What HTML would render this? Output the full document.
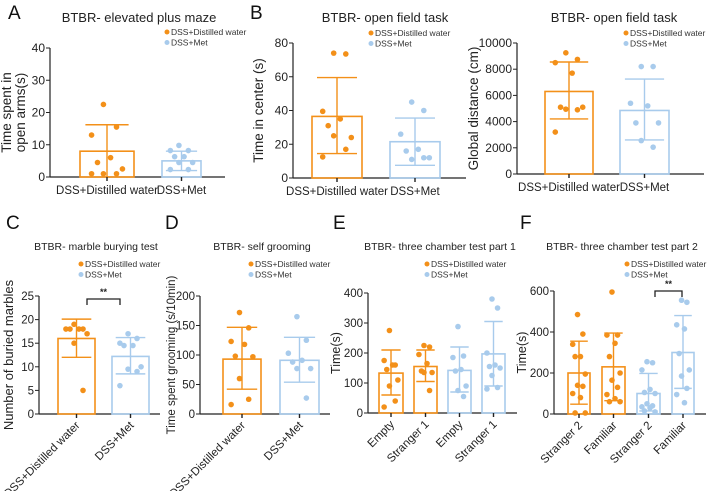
<!DOCTYPE html>
<html><head><meta charset="utf-8">
<style>
html,body{margin:0;padding:0;background:#fff;}
svg{display:block;font-family:"Liberation Sans",Arial,sans-serif;}
</style></head>
<body>
<svg id="fig" width="708" height="491" viewBox="0 0 708 491"></svg>
<script>
// ---- data arrays ----
const aCategories = ["DSS+Distilled water","DSS+Met"];
const aMeans = [8, 5];
const aErrLow = [0, 2];
const aErrHigh = [16.2, 8];
const aPoints = [[22.5,15.5,13,6,4.5,2.5,1,1,1],[9.8,8.2,8.2,6.3,6.3,4.5,4.5,2.3,2.3]];
const aTicks = [0,10,20,30,40];

const b1Categories = ["DSS+Distilled water","DSS+Met"];
const b1Means = [36.5, 21.5];
const b1ErrLow = [14.5, 7.5];
const b1ErrHigh = [59.5, 35.5];
const b1Points = [[74,73.5,39.5,35,31,24,25,17,12.5],[45,40,26,17,16,12,11,12]];
const b1Ticks = [0,20,40,60,80];

const b2Categories = ["DSS+Distilled water","DSS+Met"];
const b2Means = [6300, 4850];
const b2ErrLow = [4200, 2600];
const b2ErrHigh = [8550, 7250];
const b2Points = [[9250,8750,8500,7700,5100,5100,4950,4900,3200],[8200,8200,5400,5200,3900,3900,2550,2050]];
const b2Ticks = [0,2000,4000,6000,8000,10000];

const cCategories = ["DSS+Distilled water","DSS+Met"];
const cMeans = [16, 12.2];
const cErrLow = [12, 8.5];
const cErrHigh = [20.1, 16.2];
const cPoints = [[19,18,18,18,18,17,15,5],[17,16,15,14.5,14.5,10,9.5,9,6]];
const cTicks = [0,5,10,15,20,25];

const dCategories = ["DSS+Distilled water","DSS+Met"];
const dMeans = [93, 91];
const dErrLow = [42, 54];
const dErrHigh = [147, 130];
const dPoints = [[172,146,123,118,98,97,60,25,16],[165,125,103,91,88,77,77,27]];
const dTicks = [0,50,100,150,200];

const eCategories = ["Empty","Stranger 1","Empty","Stranger 1"];
const eMeans = [133,155,142,197];
const eErrLow = [60,105,70,90];
const eErrHigh = [210,210,220,305];
const ePoints = [[275,160,175,160,145,110,90,40,20],[225,220,195,165,140,135,135,75],[288,190,185,145,140,90,75,55],[380,350,200,160,155,150,125,85,80]];
const eTicks = [0,100,200,300,400];

const fCategories = ["Stranger 2","Familiar","Stranger 2","Familiar"];
const fMeans = [200,230,100,300];
const fErrLow = [48,65,15,125];
const fErrHigh = [355,395,198,480];
const fPoints = [[485,390,340,280,280,195,140,135,100,80,5,5],[595,385,385,345,280,200,165,130,95,75,60,60],[255,250,215,120,105,100,50,40,35,30,15,10],[555,545,435,415,295,215,185,125,95,55]];
const fTicks = [0,200,400,600];

// ---- rendering ----
const NS="http://www.w3.org/2000/svg";
const svg=document.getElementById('fig');
const OR="#f39019", BL="#a8cbec";
function mk(tag,attrs,parent,text){
  const e=document.createElementNS(NS,tag);
  for(const k in attrs)e.setAttribute(k,attrs[k]);
  if(text!==undefined)e.textContent=text;
  (parent||svg).appendChild(e);return e;
}
function panel(p){
  const g=mk('g',{});
  
  
  const max=p.ticks[p.ticks.length-1];
  const y=v=>p.y0-(v/max)*(p.y0-p.yTop);
  const ax=mk('line',{x1:p.ax,y1:p.yTop,x2:p.ax,y2:p.y0,stroke:'#222','stroke-width':1.2},g);
  
  const xl=mk('line',{x1:p.ax,y1:p.y0,x2:p.axEnd,y2:p.y0,stroke:'#222','stroke-width':1.2},g);
  
  p.ticks.forEach(t=>{
    mk('line',{x1:p.ax-4,y1:y(t),x2:p.ax,y2:y(t),stroke:'#222','stroke-width':1},g);
    const tl=mk('text',{x:p.ax-5,y:y(t)+4,'text-anchor':'end','font-size':p.tfs||12,fill:'#222'},g,t);
    
  });
  p.means.forEach((m,i)=>{
    const c=p.colors[i], x0=p.bx[i][0], x1=p.bx[i][1], cx=(x0+x1)/2, w=x1-x0;
    const r=mk('rect',{x:x0,y:y(m),width:w,height:p.y0-y(m),fill:'none',stroke:c,'stroke-width':1.6},g);
    
    const cap=w*0.4;
    const eg=mk('g',{stroke:c,'stroke-width':1.4},g);
    
    mk('line',{x1:cx,y1:y(p.lo[i]),x2:cx,y2:y(p.hi[i])},eg);
    mk('line',{x1:cx-cap,y1:y(p.hi[i]),x2:cx+cap,y2:y(p.hi[i])},eg);
    if(p.lo[i]>0)mk('line',{x1:cx-cap,y1:y(p.lo[i]),x2:cx+cap,y2:y(p.lo[i])},eg);
    mk('line',{x1:cx,y1:p.y0,x2:cx,y2:p.y0+4,stroke:'#222'},eg);
    p.pts[i].forEach((v,j)=>{
      const off=(j%2===0?-1:1)*((j%3)+0.6)*w*0.11;
      const d=mk('circle',{cx:cx+off,cy:y(v),r:2.8,fill:c},g);
      
    });
    let lab;
    if(p.rot){
      lab=mk('text',{x:cx+4,y:p.y0+12,'text-anchor':'end','font-size':p.xfs||12,fill:'#222',transform:`rotate(-45 ${cx+4} ${p.y0+12})`},g,p.cats[i]);
    } else {
      lab=mk('text',{x:cx,y:p.y0+17,'text-anchor':'middle','font-size':p.xfs||11.5,fill:'#222'},g,p.cats[i]);
    }
    
  });
  p.ytitle.forEach((t,k)=>{
    const yx=p.ytx+k*14;
    const yt=mk('text',{x:yx,y:(p.y0+p.yTop)/2,'text-anchor':'middle','font-size':p.yfs||13.5,fill:'#222',transform:`rotate(-90 ${yx} ${(p.y0+p.yTop)/2})`},g,t);
    
  });
  const ti=mk('text',{x:p.tx,y:p.ty,'text-anchor':'middle','font-size':p.tsz||13,fill:'#222'},g,p.title);
  
  const lg=mk('g',{},g);
  [['DSS+Distilled water',OR],['DSS+Met',BL]].forEach((e,k)=>{
    const ent=mk('g',{},lg);
    mk('circle',{cx:p.lx,cy:p.ly+k*10.5,r:2.5,fill:e[1]},ent);
    mk('text',{x:p.lx+4,y:p.ly+k*10.5+3.2,'font-size':8.5,fill:'#333'},ent,e[0]);
  });
  if(p.sig){
    const sg=mk('g',{},g);
    const sy=p.sig[2];
    mk('path',{d:`M${p.sig[0]} ${sy+6}V${sy}H${p.sig[1]}V${sy+6}`,fill:'none',stroke:'#222','stroke-width':1.3},sg);
    mk('text',{x:(p.sig[0]+p.sig[1])/2,y:sy-4,'text-anchor':'middle','font-size':9,fill:'#222','font-weight':'bold'},sg,'**');
  }
}
const two=[OR,BL], four=[OR,OR,BL,BL];
panel({name:'panel-a',ticks:aTicks,means:aMeans,lo:aErrLow,hi:aErrHigh,pts:aPoints,cats:aCategories,colors:two,
  ax:50,axEnd:225,y0:177,yTop:48,bx:[[80,134],[162,201]],ytitle:['Time spent in','open arms(s)'],ytx:11,
  title:'BTBR- elevated plus maze',tx:139,ty:22,lx:167,ly:32});
panel({name:'panel-b-center-time',ticks:b1Ticks,means:b1Means,lo:b1ErrLow,hi:b1ErrHigh,pts:b1Points,cats:b1Categories,colors:two,
  ax:293,axEnd:466,y0:178,yTop:43,bx:[[312,362],[390,440]],ytitle:['Time in center (s)'],ytx:263,
  title:'BTBR- open field task',tx:385,ty:22,lx:371,ly:33});
panel({name:'panel-b-global-distance',ticks:b2Ticks,means:b2Means,lo:b2ErrLow,hi:b2ErrHigh,pts:b2Points,cats:b2Categories,colors:two,
  ax:517,axEnd:704,y0:174,yTop:43,bx:[[545,593],[620,669]],ytitle:['Global distance (cm)'],ytx:478,
  title:'BTBR- open field task',tx:614,ty:22,lx:626,ly:33});
panel({name:'panel-c',ticks:cTicks,means:cMeans,lo:cErrLow,hi:cErrHigh,pts:cPoints,cats:cCategories,colors:two,rot:true,
  ax:39,axEnd:160,y0:414,yTop:296,bx:[[58,95],[112,149]],ytitle:['Number of buried marbles'],ytx:13,yfs:13,tfs:11.5,xfs:11.5,
  title:'BTBR- marble burying test',tx:96,ty:250,tsz:10.5,lx:81,ly:264,sig:[87,120,299]});
panel({name:'panel-d',ticks:dTicks,means:dMeans,lo:dErrLow,hi:dErrHigh,pts:dPoints,cats:dCategories,colors:two,rot:true,
  ax:200,axEnd:330,y0:414,yTop:296,bx:[[223,261],[280,319]],ytitle:['Time spent grooming (s/10min)'],ytx:175,yfs:11.5,tfs:11.5,xfs:11.5,
  title:'BTBR- self grooming',tx:262,ty:250,tsz:10.5,lx:251,ly:264});
panel({name:'panel-e',ticks:eTicks,means:eMeans,lo:eErrLow,hi:eErrHigh,pts:ePoints,cats:eCategories,colors:four,rot:true,
  ax:368,axEnd:517,y0:413,yTop:293,bx:[[379,403],[414,437],[448,471],[482,505]],ytitle:['Time(s)'],ytx:340,yfs:12.5,tfs:11.5,xfs:11.5,
  title:'BTBR- three chamber test part 1',tx:440,ty:250,tsz:10.5,lx:427,ly:264});
panel({name:'panel-f',ticks:fTicks,means:fMeans,lo:fErrLow,hi:fErrHigh,pts:fPoints,cats:fCategories,colors:four,rot:true,
  ax:554,axEnd:706,y0:414,yTop:291,bx:[[568,590],[602,625],[637,660],[672,694]],ytitle:['Time(s)'],ytx:526,yfs:12.5,tfs:11.5,xfs:11.5,
  title:'BTBR- three chamber test part 2',tx:622,ty:250,tsz:10.5,lx:627,ly:264,sig:[655,682,291]});
[['A',8,19],['B',250,19],['C',6,229],['D',165,229],['E',333,229],['F',520,229]].forEach(l=>{
  const t=mk('text',{x:l[1],y:l[2],'font-size':19,fill:'#111'},svg,l[0]);
  
  
});
</script>
</body></html>
